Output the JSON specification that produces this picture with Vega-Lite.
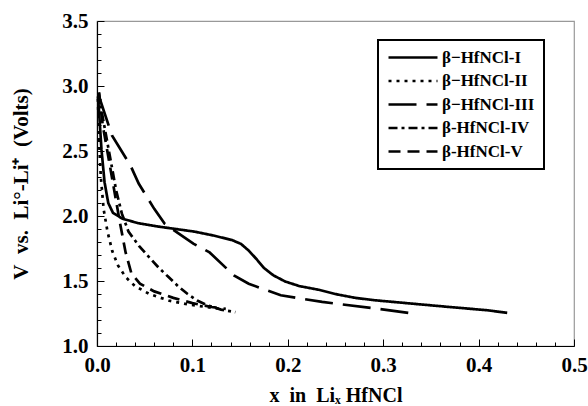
{
  "$schema": "https://vega.github.io/schema/vega-lite/v6.json",
  "width": 477,
  "height": 325,
  "autosize": {"type": "none"},
  "padding": {"left": 97, "top": 21, "right": 14, "bottom": 60},
  "background": "white",
  "config": {
    "view": {"stroke": "#999", "strokeWidth": 1.2},
    "font": "Liberation Serif",
    "legend": {"strokeColor": "black", "strokeWidth": 2, "fillColor": "white"}
  },
  "data": {"values": [
    {"s": "β−HfNCl-I", "x": 0.001, "v": 2.92},
    {"s": "β−HfNCl-I", "x": 0.002, "v": 2.82},
    {"s": "β−HfNCl-I", "x": 0.0047, "v": 2.51},
    {"s": "β−HfNCl-I", "x": 0.0079, "v": 2.26},
    {"s": "β−HfNCl-I", "x": 0.0118, "v": 2.1},
    {"s": "β−HfNCl-I", "x": 0.0167, "v": 2.025},
    {"s": "β−HfNCl-I", "x": 0.0265, "v": 1.98},
    {"s": "β−HfNCl-I", "x": 0.043, "v": 1.945},
    {"s": "β−HfNCl-I", "x": 0.063, "v": 1.92},
    {"s": "β−HfNCl-I", "x": 0.0825, "v": 1.9},
    {"s": "β−HfNCl-I", "x": 0.102, "v": 1.88},
    {"s": "β−HfNCl-I", "x": 0.122, "v": 1.85},
    {"s": "β−HfNCl-I", "x": 0.1415, "v": 1.815},
    {"s": "β−HfNCl-I", "x": 0.151, "v": 1.785},
    {"s": "β−HfNCl-I", "x": 0.159, "v": 1.734},
    {"s": "β−HfNCl-I", "x": 0.167, "v": 1.67},
    {"s": "β−HfNCl-I", "x": 0.175, "v": 1.6},
    {"s": "β−HfNCl-I", "x": 0.185, "v": 1.543},
    {"s": "β−HfNCl-I", "x": 0.197, "v": 1.497},
    {"s": "β−HfNCl-I", "x": 0.212, "v": 1.461},
    {"s": "β−HfNCl-I", "x": 0.232, "v": 1.433},
    {"s": "β−HfNCl-I", "x": 0.2516, "v": 1.397},
    {"s": "β−HfNCl-I", "x": 0.271, "v": 1.37},
    {"s": "β−HfNCl-I", "x": 0.291, "v": 1.352},
    {"s": "β−HfNCl-I", "x": 0.33, "v": 1.326},
    {"s": "β−HfNCl-I", "x": 0.3695, "v": 1.3},
    {"s": "β−HfNCl-I", "x": 0.409, "v": 1.275},
    {"s": "β−HfNCl-I", "x": 0.43, "v": 1.255},

    {"s": "β−HfNCl-II", "x": 0.001, "v": 2.9},
    {"s": "β−HfNCl-II", "x": 0.002, "v": 2.6},
    {"s": "β−HfNCl-II", "x": 0.004, "v": 2.3},
    {"s": "β−HfNCl-II", "x": 0.007, "v": 2.05},
    {"s": "β−HfNCl-II", "x": 0.011, "v": 1.88},
    {"s": "β−HfNCl-II", "x": 0.016, "v": 1.73},
    {"s": "β−HfNCl-II", "x": 0.022, "v": 1.62},
    {"s": "β−HfNCl-II", "x": 0.03, "v": 1.53},
    {"s": "β−HfNCl-II", "x": 0.04, "v": 1.46},
    {"s": "β−HfNCl-II", "x": 0.055, "v": 1.4},
    {"s": "β−HfNCl-II", "x": 0.075, "v": 1.35},
    {"s": "β−HfNCl-II", "x": 0.095, "v": 1.32},
    {"s": "β−HfNCl-II", "x": 0.115, "v": 1.3},
    {"s": "β−HfNCl-II", "x": 0.13, "v": 1.285},

    {"s": "β−HfNCl-III", "x": 0.003, "v": 2.9},
    {"s": "β−HfNCl-III", "x": 0.0157, "v": 2.62},
    {"s": "β−HfNCl-III", "x": 0.035, "v": 2.39},
    {"s": "β−HfNCl-III", "x": 0.0437, "v": 2.25},
    {"s": "β−HfNCl-III", "x": 0.06, "v": 2.055},
    {"s": "β−HfNCl-III", "x": 0.071, "v": 1.94},
    {"s": "β−HfNCl-III", "x": 0.101, "v": 1.787},
    {"s": "β−HfNCl-III", "x": 0.118, "v": 1.72},
    {"s": "β−HfNCl-III", "x": 0.1435, "v": 1.543},
    {"s": "β−HfNCl-III", "x": 0.159, "v": 1.479},
    {"s": "β−HfNCl-III", "x": 0.1926, "v": 1.39},
    {"s": "β−HfNCl-III", "x": 0.236, "v": 1.339},
    {"s": "β−HfNCl-III", "x": 0.287, "v": 1.293},
    {"s": "β−HfNCl-III", "x": 0.332, "v": 1.25},

    {"s": "β-HfNCl-IV", "x": 0.002, "v": 2.95},
    {"s": "β-HfNCl-IV", "x": 0.005, "v": 2.8},
    {"s": "β-HfNCl-IV", "x": 0.01, "v": 2.6},
    {"s": "β-HfNCl-IV", "x": 0.015, "v": 2.4},
    {"s": "β-HfNCl-IV", "x": 0.02, "v": 2.2},
    {"s": "β-HfNCl-IV", "x": 0.026, "v": 2.02},
    {"s": "β-HfNCl-IV", "x": 0.033, "v": 1.88},
    {"s": "β-HfNCl-IV", "x": 0.044, "v": 1.77},
    {"s": "β-HfNCl-IV", "x": 0.055, "v": 1.68},
    {"s": "β-HfNCl-IV", "x": 0.065, "v": 1.6},
    {"s": "β-HfNCl-IV", "x": 0.075, "v": 1.53},
    {"s": "β-HfNCl-IV", "x": 0.085, "v": 1.46},
    {"s": "β-HfNCl-IV", "x": 0.095, "v": 1.4},
    {"s": "β-HfNCl-IV", "x": 0.105, "v": 1.35},
    {"s": "β-HfNCl-IV", "x": 0.115, "v": 1.315},
    {"s": "β-HfNCl-IV", "x": 0.13, "v": 1.28},
    {"s": "β-HfNCl-IV", "x": 0.145, "v": 1.26},

    {"s": "β-HfNCl-V", "x": 0.002, "v": 2.95},
    {"s": "β-HfNCl-V", "x": 0.006, "v": 2.7},
    {"s": "β-HfNCl-V", "x": 0.012, "v": 2.45},
    {"s": "β-HfNCl-V", "x": 0.018, "v": 2.2},
    {"s": "β-HfNCl-V", "x": 0.024, "v": 1.95},
    {"s": "β-HfNCl-V", "x": 0.03, "v": 1.72},
    {"s": "β-HfNCl-V", "x": 0.036, "v": 1.56},
    {"s": "β-HfNCl-V", "x": 0.045, "v": 1.48},
    {"s": "β-HfNCl-V", "x": 0.06, "v": 1.42},
    {"s": "β-HfNCl-V", "x": 0.08, "v": 1.37},
    {"s": "β-HfNCl-V", "x": 0.1, "v": 1.33},
    {"s": "β-HfNCl-V", "x": 0.12, "v": 1.3},
    {"s": "β-HfNCl-V", "x": 0.135, "v": 1.285}
  ]},
  "resolve": {"axis": {"x": "independent", "y": "independent"}},
  "layer": [
    {
      "mark": {"type": "line", "color": "black", "strokeWidth": 2.7, "strokeCap": "butt"},
      "encoding": {
        "x": {"field": "x", "type": "quantitative",
          "scale": {"domain": [0, 0.5], "nice": false, "zero": false},
          "axis": {"orient": "bottom", "values": [0, 0.1, 0.2, 0.3, 0.4, 0.5], "format": ".1f",
            "tickSize": -7, "tickColor": "black", "domainColor": "black", "domainWidth": 1.2,
            "grid": false, "labelFont": "Liberation Serif", "labelFontSize": 21, "labelFontWeight": "bold",
            "labelColor": "black", "labelPadding": 15, "labelFlush": false,
            "title": "x\u00a0\u00a0in\u00a0\u00a0Liₓ\u00a0HfNCl", "titleFont": "Liberation Serif", "titleFontSize": 20,
            "titleFontWeight": "bold", "titleColor": "black", "titlePadding": 10}},
        "y": {"field": "v", "type": "quantitative",
          "scale": {"domain": [1, 3.5], "nice": false, "zero": false},
          "axis": {"orient": "left", "values": [1, 1.5, 2, 2.5, 3, 3.5], "format": ".1f",
            "tickSize": -7, "tickColor": "black", "domainColor": "black", "domainWidth": 1.2,
            "grid": false, "labelFont": "Liberation Serif", "labelFontSize": 21, "labelFontWeight": "bold",
            "labelColor": "black", "labelPadding": 16, "labelFlush": false,
            "title": "V\u00a0\u00a0vs.\u00a0\u00a0Li°-Li⁺\u00a0\u00a0(Volts)", "titleFont": "Liberation Serif", "titleFontSize": 21,
            "titleFontWeight": "bold", "titleColor": "black", "titlePadding": 30}},
        "strokeDash": {"field": "s", "type": "nominal",
          "scale": {"domain": ["β−HfNCl-I", "β−HfNCl-II", "β−HfNCl-III", "β-HfNCl-IV", "β-HfNCl-V"],
            "range": [[1, 0], [3, 5], [28, 10], [9, 4, 3, 4], [12, 7]]},
          "legend": {"orient": "none", "legendX": 281, "legendY": 19, "title": null,
            "padding": 9, "clipHeight": 17,
            "symbolType": "stroke", "symbolSize": 2400, "symbolStrokeWidth": 2.7,
            "symbolStrokeColor": "black", "labelFont": "Liberation Serif", "labelFontSize": 17,
            "labelFontWeight": "bold", "labelColor": "black", "rowPadding": 5.5, "labelOffset": 3}}
      }
    },
    {
      "mark": {"type": "point", "opacity": 0},
      "encoding": {
        "x": {"field": "x", "type": "quantitative",
          "axis": {"orient": "bottom", "values": [0.02, 0.04, 0.06, 0.08, 0.12, 0.14, 0.16, 0.18, 0.22, 0.24, 0.26, 0.28, 0.32, 0.34, 0.36, 0.38, 0.42, 0.44, 0.46, 0.48],
            "labels": false, "domain": false, "tickSize": -4, "tickColor": "black", "grid": false, "title": null}},
        "y": {"field": "v", "type": "quantitative",
          "axis": {"orient": "left", "values": [1.1, 1.2, 1.3, 1.4, 1.6, 1.7, 1.8, 1.9, 2.1, 2.2, 2.3, 2.4, 2.6, 2.7, 2.8, 2.9, 3.1, 3.2, 3.3, 3.4],
            "labels": false, "domain": false, "tickSize": -4, "tickColor": "black", "grid": false, "title": null}}
      }
    }
  ]
}
